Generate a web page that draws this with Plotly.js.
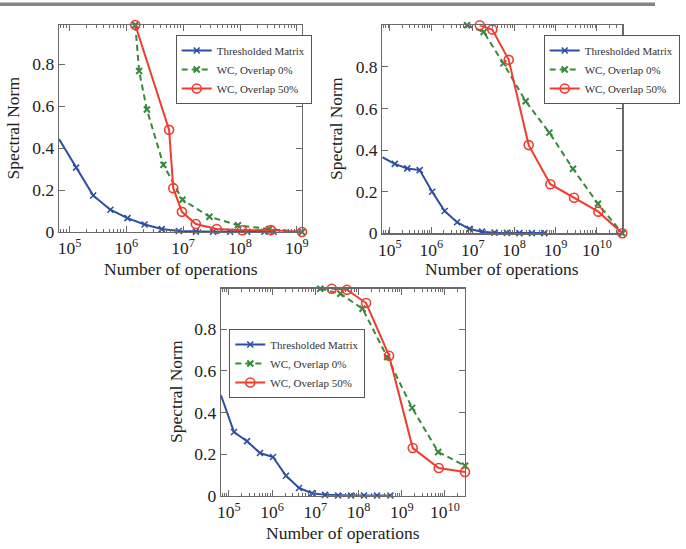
<!DOCTYPE html>
<html>
<head>
<meta charset="utf-8">
<script src="https://cdn.plot.ly/plotly-3.0.1.min.js"></script>
<style>
  html, body { margin: 0; padding: 0; background: #fff; }
  #chart { width: 686px; height: 549px; }
</style>
</head>
<body>
<div id="chart"></div>
<script>
// ---- data: spectral norm vs number of operations, three experiments ----
const seriesNames = ['Thresholded Matrix', 'WC, Overlap 0%', 'WC, Overlap 50%'];

// experiment A (top left)
const aThreshX = [65536, 131072, 262144, 524288, 1048576, 2097152, 4194304, 8388608, 16777216, 33554432, 67108864, 134217728, 268435456, 388000000];
const aThreshY = [0.443, 0.307, 0.174, 0.106, 0.066, 0.036, 0.014, 0.005, 0.002, 0.001, 0.001, 0.001, 0.001, 0.001];
const aWc0X = [1.44e6, 1.68e6, 2.3e6, 4.5e6, 9.7e6, 2.9e7, 9.2e7, 3.26e8, 1.23e9];
const aWc0Y = [0.987, 0.768, 0.584, 0.32, 0.154, 0.073, 0.032, 0.014, 0.0];
const aWc50X = [1.44e6, 5.66e6, 6.7e6, 9.5e6, 1.67e7, 3.9e7, 1.08e8, 3.5e8, 1.23e9];
const aWc50Y = [0.987, 0.487, 0.209, 0.096, 0.038, 0.014, 0.008, 0.009, 0.0];

// experiment B (top right)
const bThreshX = [65536, 131072, 262144, 524288, 1048576, 2097152, 4194304, 8388608, 16777216, 33554432, 67108864, 134217728, 268435456, 536000000];
const bThreshY = [0.366, 0.334, 0.312, 0.304, 0.2, 0.107, 0.053, 0.021, 0.008, 0.003, 0.002, 0.001, 0.001, 0.001];
const bWc0X = [7.3e6, 1.84e7, 5.5e7, 1.9e8, 7.1e8, 2.64e9, 1.06e10, 4.1e10];
const bWc0Y = [1.0, 0.968, 0.817, 0.635, 0.484, 0.31, 0.142, 0.0];
const bWc50X = [1.48e7, 2.97e7, 7.4e7, 2.25e8, 7.5e8, 2.8e9, 1.08e10, 4.1e10];
const bWc50Y = [1.0, 0.98, 0.834, 0.424, 0.236, 0.171, 0.104, 0.0];

// experiment C (bottom)
const cThreshX = [65536, 131072, 262144, 524288, 1048576, 2097152, 4194304, 8388608, 16777216, 33554432, 67108864, 134217728, 268435456, 546000000];
const cThreshY = [0.483, 0.306, 0.262, 0.205, 0.186, 0.096, 0.037, 0.012, 0.004, 0.001, 0.001, 0.001, 0.001, 0.001];
const cWc0X = [1.3e7, 3.8e7, 1.24e8, 4.6e8, 1.74e9, 7.0e9, 2.92e10];
const cWc0Y = [0.995, 0.971, 0.899, 0.667, 0.422, 0.21, 0.144];
const cWc50X = [2.4e7, 5.4e7, 1.5e8, 5.1e8, 1.8e9, 7.2e9, 2.92e10];
const cWc50Y = [0.995, 0.99, 0.926, 0.673, 0.229, 0.133, 0.114];

// tick labels
const yTickVals = [0, 0.2, 0.4, 0.6, 0.8];
const yTickText = ['0', '0.2', '0.4', '0.6', '0.8'];
const xTickExpA = [5, 6, 7, 8, 9];
const xTickExpB = [5, 6, 7, 8, 9, 10];
const xTickExpC = [5, 6, 7, 8, 9, 10];

// ---- styling ----
const W = 686, H = 549;
const SERIF = 'Liberation Serif, Times New Roman, serif';
const BLUE = '#2c4fa3', GREEN = '#37893b', RED = '#ee3d2e';
const FRAME = '#6a6a6a';

// pixel box -> paper fraction helpers
const px = v => v / W;
const py = v => 1 - v / H;

function minorVals(lo, hi) {
  const out = [];
  for (let d = lo; d <= hi; d++) {
    for (let k = 2; k <= 9; k++) out.push(k * Math.pow(10, d));
  }
  return out;
}

function xAxis(box, exps, anchor) {
  return {
    type: 'log',
    domain: [px(box.l), px(box.r)],
    range: [Math.log10(box.xmin), Math.log10(box.xmax)],
    anchor: anchor,
    tickmode: 'array',
    tickvals: exps.map(e => Math.pow(10, e)),
    ticktext: exps.map(e => '10<sup>' + e + '</sup>'),
    ticks: 'inside', ticklen: 6, tickwidth: 1, tickcolor: FRAME,
    minor: { tickmode: 'array', tickvals: minorVals(4, 10), ticks: 'inside', ticklen: 3, tickwidth: 1, tickcolor: FRAME, showgrid: false },
    showline: true, linecolor: FRAME, linewidth: 1.3, mirror: 'ticks',
    showgrid: false, zeroline: false,
    tickfont: { family: SERIF, size: 17.5, color: '#222' },
    fixedrange: true
  };
}

function yAxis(box, anchor) {
  return {
    domain: [py(box.b), py(box.t)],
    range: [0, box.ymax],
    anchor: anchor,
    tickmode: 'array', tickvals: yTickVals, ticktext: yTickText,
    ticks: 'inside', ticklen: 6, tickwidth: 1, tickcolor: FRAME,
    showline: true, linecolor: FRAME, linewidth: 1.3, mirror: 'ticks',
    showgrid: false, zeroline: false,
    tickfont: { family: SERIF, size: 17.5, color: '#222' },
    fixedrange: true
  };
}

// plot boxes in pixels
const boxA = { l: 59, r: 302, t: 25, b: 232, xmin: aThreshX[0], xmax: aWc0X[aWc0X.length - 1], ymax: 0.987 };
const boxB = { l: 382.3, r: 622.3, t: 25.3, b: 233.3, xmin: bThreshX[0], xmax: bWc0X[bWc0X.length - 1], ymax: 1.0 };
const boxC = { l: 221, r: 465, t: 288.7, b: 495.7, xmin: cThreshX[0], xmax: cWc0X[cWc0X.length - 1], ymax: 0.995 };

function traces(xa, ya, legendId, tx, ty, g0x, g0y, g5x, g5y) {
  return [
    { x: tx, y: ty, xaxis: xa, yaxis: ya, legend: legendId, name: seriesNames[0],
      mode: 'lines+markers', cliponaxis: false,
      line: { color: BLUE, width: 2 },
      marker: { symbol: 'x-thin', size: 6, color: BLUE, line: { color: BLUE, width: 1.6 } } },
    { x: g0x, y: g0y, xaxis: xa, yaxis: ya, legend: legendId, name: seriesNames[1],
      mode: 'lines+markers', cliponaxis: false,
      line: { color: GREEN, width: 2, dash: '6px,4px' },
      marker: { symbol: 'x-thin', size: 6, color: GREEN, line: { color: GREEN, width: 2 } } },
    { x: g5x, y: g5y, xaxis: xa, yaxis: ya, legend: legendId, name: seriesNames[2],
      mode: 'lines+markers', cliponaxis: false,
      line: { color: RED, width: 2 },
      marker: { symbol: 'circle-open', size: 9, color: RED, line: { color: RED, width: 1.6 } } }
  ];
}

const data = [].concat(
  traces('x', 'y', 'legend', aThreshX, aThreshY, aWc0X, aWc0Y, aWc50X, aWc50Y),
  traces('x2', 'y2', 'legend2', bThreshX, bThreshY, bWc0X, bWc0Y, bWc50X, bWc50Y),
  traces('x3', 'y3', 'legend3', cThreshX, cThreshY, cWc0X, cWc0Y, cWc50X, cWc50Y)
);

function legendAt(l, t) {
  return {
    x: px(l), y: py(t), xanchor: 'left', yanchor: 'top',
    bgcolor: '#fff', bordercolor: '#555', borderwidth: 1,
    font: { family: SERIF, size: 11, color: '#333' },
    tracegroupgap: 0
  };
}

function title(text, x, y, vertical) {
  return {
    text: text, xref: 'paper', yref: 'paper', x: px(x), y: py(y),
    xanchor: 'center', yanchor: 'middle', showarrow: false,
    textangle: vertical ? -90 : 0,
    font: { family: SERIF, size: 17.5, color: '#222' }
  };
}

const layout = {
  width: W, height: H,
  margin: { l: 0, r: 0, t: 0, b: 0 },
  paper_bgcolor: '#fff', plot_bgcolor: '#fff',
  showlegend: true,
  xaxis: xAxis(boxA, xTickExpA, 'y'),
  yaxis: yAxis(boxA, 'x'),
  xaxis2: xAxis(boxB, xTickExpB, 'y2'),
  yaxis2: yAxis(boxB, 'x2'),
  xaxis3: xAxis(boxC, xTickExpC, 'y3'),
  yaxis3: yAxis(boxC, 'x3'),
  legend: legendAt(175.7, 35),
  legend2: legendAt(543.7, 35),
  legend3: legendAt(229.3, 329),
  annotations: [
    title('Spectral Norm', 13, 128.5, true),
    title('Number of operations', 181, 269, false),
    title('Spectral Norm', 336, 129, true),
    title('Number of operations', 502, 269, false),
    title('Spectral Norm', 176, 392, true),
    title('Number of operations', 343, 533, false)
  ],
  shapes: [
    { type: 'rect', xref: 'paper', yref: 'paper', x0: 0, x1: px(655), y0: py(6), y1: py(2.5),
      fillcolor: '#858585', line: { width: 0 } }
  ]
};

Plotly.newPlot('chart', data, layout, { staticPlot: true, displayModeBar: false });
</script>
</body>
</html>
